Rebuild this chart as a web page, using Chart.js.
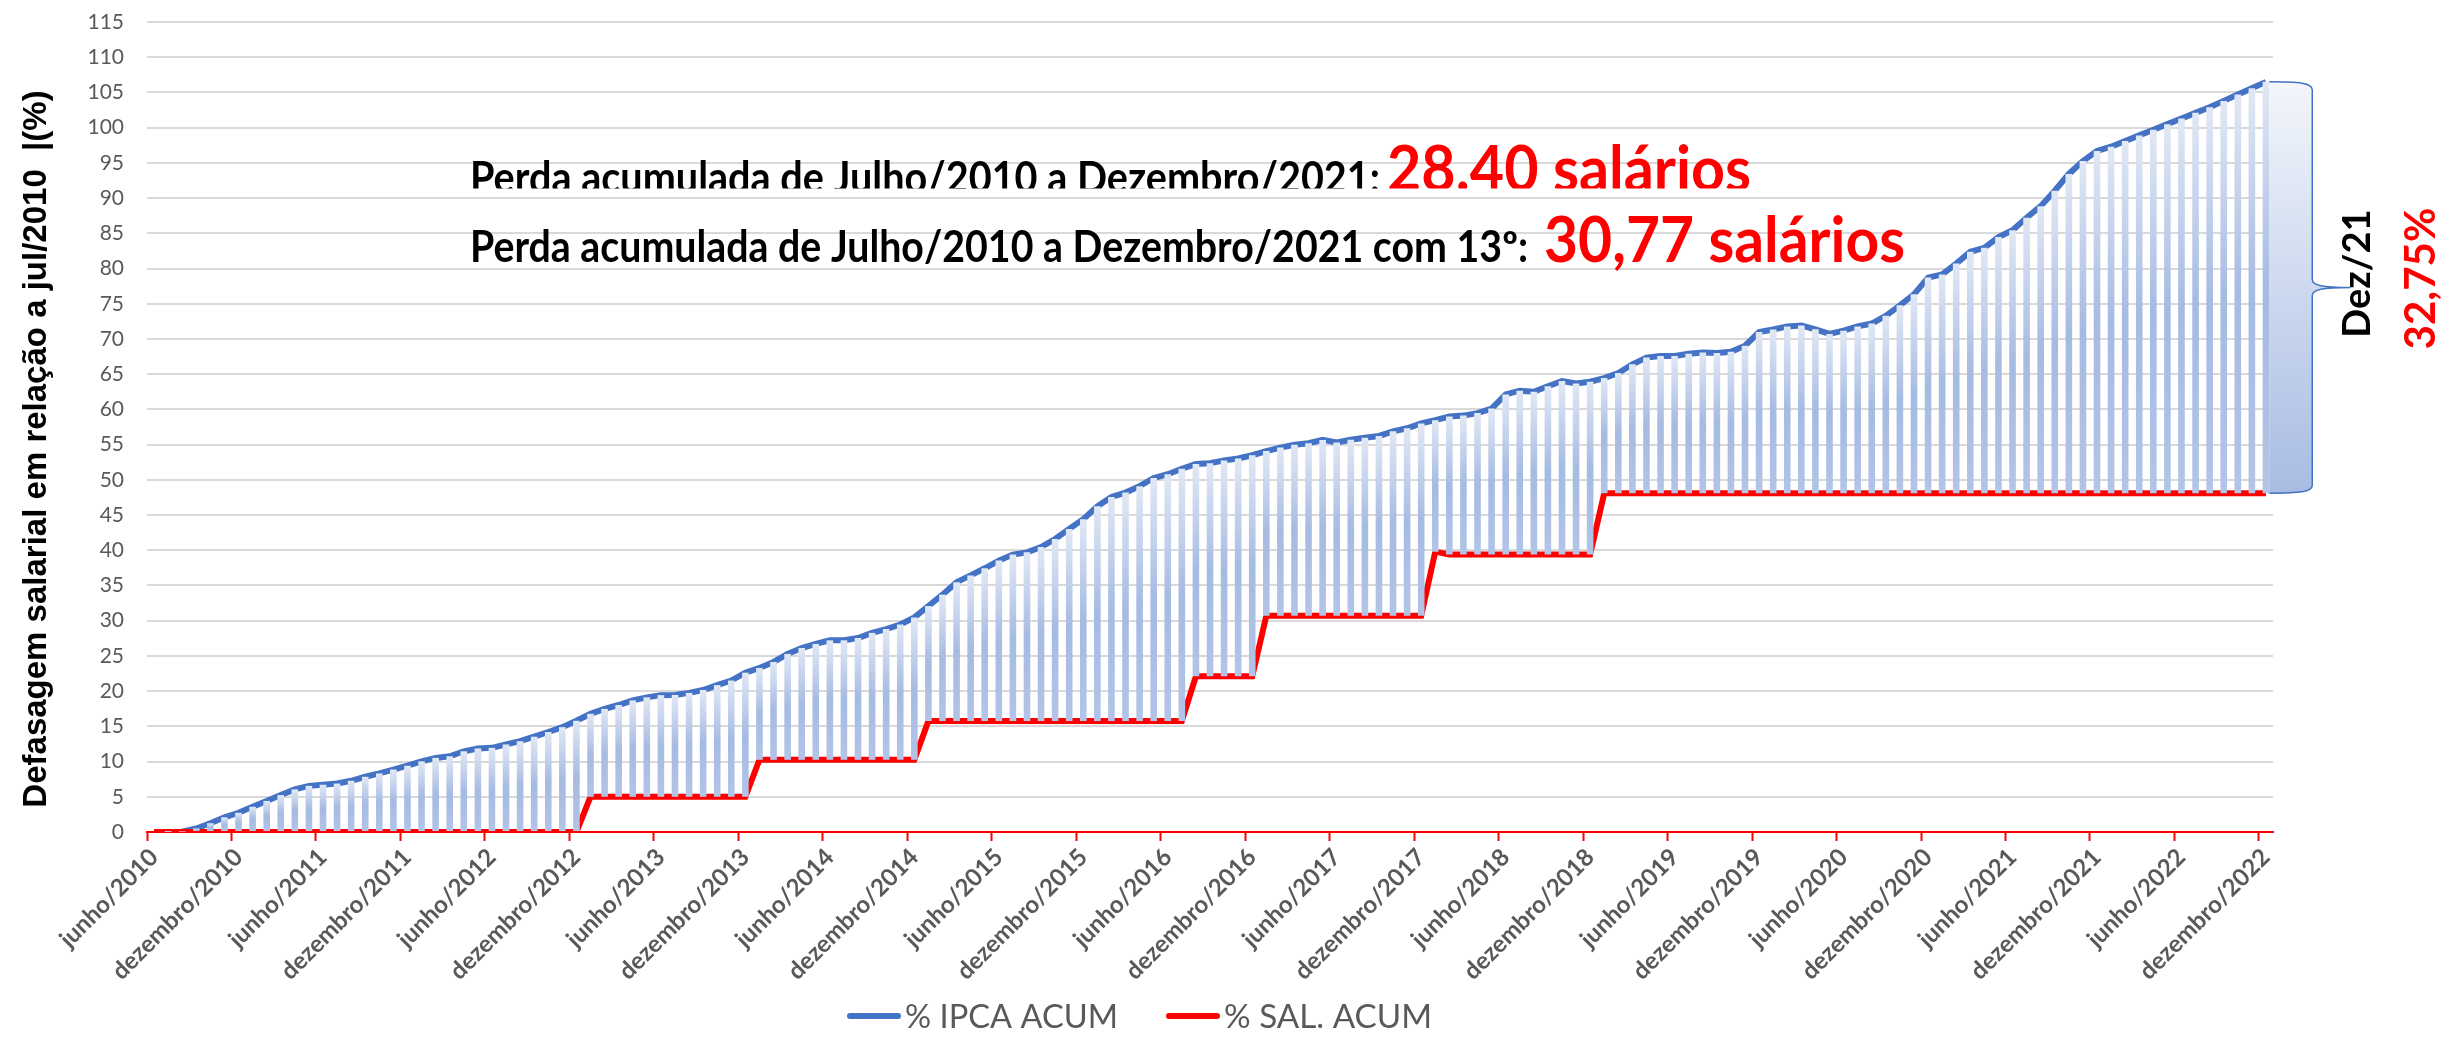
<!DOCTYPE html>
<html lang="pt-BR">
<head>
<meta charset="utf-8">
<title>Defasagem salarial</title>
<script src="https://cdn.jsdelivr.net/npm/chart.js@4.4.1/dist/chart.umd.min.js"></script>
<style>
  html, body { margin: 0; padding: 0; background: #fff; }
  #wrap { width: 2458px; height: 1039px; position: relative; }
</style>
</head>
<body>
<div id="wrap"><canvas id="grafico"></canvas></div>
<script>
// --- Dados ---
const meses = ['janeiro', 'fevereiro', 'março', 'abril', 'maio', 'junho',
  'julho', 'agosto', 'setembro', 'outubro', 'novembro', 'dezembro'];

// categorias: junho/2010 ... dezembro/2022
const categorias = [];
for (let ano = 2010; ano <= 2022; ano++) {
  for (let m = 0; m < 12; m++) {
    if (ano === 2010 && m < 5) continue;
    categorias.push(meses[m] + '/' + ano);
  }
}

const ipcaAcum = [
  0, 0.01, 0.05, 0.50, 1.25, 2.09, 2.73,                                          // 2010
  3.58, 4.41, 5.24, 6.05, 6.55, 6.71, 6.88, 7.27, 7.84, 8.31, 8.87, 9.41,         // 2011
  10.03, 10.52, 10.75, 11.46, 11.86, 11.95, 12.43, 12.89, 13.53, 14.20, 14.89, 15.79, // 2012
  16.78, 17.48, 18.03, 18.68, 19.12, 19.43, 19.46, 19.75, 20.16, 20.85, 21.50, 22.62, // 2013
  23.29, 24.14, 25.28, 26.12, 26.70, 27.21, 27.22, 27.54, 28.27, 28.81, 29.46, 30.47, // 2014
  32.09, 33.70, 35.47, 36.43, 37.44, 38.53, 39.39, 39.70, 40.45, 41.60, 43.03, 44.41, // 2015
  46.24, 47.56, 48.19, 49.10, 50.26, 50.79, 51.57, 52.24, 52.36, 52.76, 53.03, 53.49, // 2016
  54.08, 54.58, 54.97, 55.19, 55.67, 55.31, 55.68, 55.98, 56.23, 56.88, 57.32, 58.01, // 2017
  58.47, 58.98, 59.12, 59.47, 60.11, 62.13, 62.66, 62.51, 63.29, 64.03, 63.68, 63.93, // 2018
  64.45, 65.16, 66.40, 67.35, 67.57, 67.58, 67.90, 68.08, 68.02, 68.19, 69.04, 70.99, // 2019
  71.35, 71.78, 71.90, 71.37, 70.72, 71.17, 71.78, 72.19, 73.29, 74.78, 76.33, 78.71, // 2020
  79.16, 80.70, 82.38, 82.94, 84.46, 85.44, 87.22, 88.85, 91.04, 93.43, 95.27, 96.70, // 2021
  97.30, 98.10, 98.90, 99.70, 100.50, 101.30, 102.10, 102.90, 103.80, 104.70, 105.60, 106.50 // 2022
];

const salAcum = [
  0, 0, 0, 0, 0, 0, 0,                                                            // 2010
  0, 0, 0, 0, 0, 0, 0, 0, 0, 0, 0, 0,                                             // 2011
  0, 0, 0, 0, 0, 0, 0, 0, 0, 0, 0, 0,                                             // 2012
  5, 5, 5, 5, 5, 5, 5, 5, 5, 5, 5, 5,                                             // 2013
  10.25, 10.25, 10.25, 10.25, 10.25, 10.25, 10.25, 10.25, 10.25, 10.25, 10.25, 10.25, // 2014
  15.76, 15.76, 15.76, 15.76, 15.76, 15.76, 15.76, 15.76, 15.76, 15.76, 15.76, 15.76, // 2015
  15.76, 15.76, 15.76, 15.76, 15.76, 15.76, 15.76, 22.1, 22.1, 22.1, 22.1, 22.1,   // 2016
  30.7, 30.7, 30.7, 30.7, 30.7, 30.7, 30.7, 30.7, 30.7, 30.7, 30.7, 30.7,         // 2017
  39.8, 39.4, 39.4, 39.4, 39.4, 39.4, 39.4, 39.4, 39.4, 39.4, 39.4, 39.4,         // 2018
  48.1, 48.1, 48.1, 48.1, 48.1, 48.1, 48.1, 48.1, 48.1, 48.1, 48.1, 48.1,         // 2019
  48.1, 48.1, 48.1, 48.1, 48.1, 48.1, 48.1, 48.1, 48.1, 48.1, 48.1, 48.1,         // 2020
  48.1, 48.1, 48.1, 48.1, 48.1, 48.1, 48.1, 48.1, 48.1, 48.1, 48.1, 48.1,         // 2021
  48.1, 48.1, 48.1, 48.1, 48.1, 48.1, 48.1, 48.1, 48.1, 48.1, 48.1, 48.1          // 2022
];

const yMin = 0;
const yMax = 115;
const yStep = 5;

const tituloY = 'Defasagem salarial em relação a jul/2010  |(%)';
const linha1 = 'Perda acumulada de Julho/2010 a Dezembro/2021:';
const valor1 = '28.40 salários';
const linha2 = 'Perda acumulada de Julho/2010 a Dezembro/2021 com 13º:';
const valor2 = '30,77 salários';
const chaveMes = 'Dez/21';
const chaveValor = '32,75%';

// faixa entre salário e IPCA (barras flutuantes)
const faixa = categorias.map((_, i) => [salAcum[i], ipcaAcum[i]]);

function gradienteBarra(c) {
  const chart = c.chart;
  if (!chart.chartArea || !c.raw) return '#b4c7e7';
  const y = chart.scales.y;
  const topo = y.getPixelForValue(c.raw[1]);
  const base = y.getPixelForValue(c.raw[0]);
  if (base - topo < 2) return '#c9d6ee';
  const g = chart.ctx.createLinearGradient(0, topo, 0, base);
  g.addColorStop(0, '#e1e8f5');
  g.addColorStop(0.5, '#a6bbe2');
  g.addColorStop(1, '#b2c4e7');
  return g;
}

// texto ajustado a uma largura
function textoLargura(c, txt, x, y, fonte, cor, largura) {
  c.font = fonte;
  const w = c.measureText(txt).width;
  c.save();
  c.translate(x, y);
  c.scale(largura / w, 1);
  c.fillStyle = cor;
  c.textAlign = 'left';
  c.textBaseline = 'alphabetic';
  c.fillText(txt, 0, 0);
  c.restore();
}

const anotacoes = {
  id: 'anotacoes',
  afterDraw(chart) {
    const c = chart.ctx;
    const area = chart.chartArea;
    const ys = chart.scales.y;

    // título do eixo Y
    c.save();
    c.translate(37, (area.top + area.bottom) / 2 + 22);
    c.rotate(-Math.PI / 2);
    c.font = 'bold 33px "Liberation Sans", Arial, sans-serif';
    c.fillStyle = '#000';
    c.textAlign = 'center';
    c.textBaseline = 'middle';
    c.fillText(tituloY, 0, 0);
    c.restore();

    // textos de perda acumulada
    c.save();
    c.beginPath();
    c.rect(0, 0, chart.width, 188.5);
    c.clip();
    textoLargura(c, linha1, 470, 193, 'bold 43px Lato', '#000', 910);
    textoLargura(c, valor1, 1387, 191, 'bold 63px Lato', '#ff0000', 364);
    c.restore();
    textoLargura(c, linha2, 470, 262, 'bold 43px Lato', '#000', 1058);
    textoLargura(c, valor2, 1544, 262, 'bold 63px Lato', '#ff0000', 361);

    // chave à direita da última barra
    const ult = ipcaAcum.length - 1;
    const barra = chart.getDatasetMeta(0).data[ult];
    const xL = barra.x + barra.width / 2;
    const yT = ys.getPixelForValue(ipcaAcum[ult]);
    const yB = ys.getPixelForValue(salAcum[ult]);
    const xV = xL + 43;
    const xP = xV + 38;
    const yM = (yT + yB) / 2;

    const chave = () => {
      c.moveTo(xL, yT);
      c.bezierCurveTo(xL + 30, yT, xV, yT + 1, xV, yT + 8);
      c.lineTo(xV, yM - 8);
      c.bezierCurveTo(xV, yM - 2, xV + 10, yM, xP, yM);
      c.bezierCurveTo(xV + 10, yM, xV, yM + 2, xV, yM + 8);
      c.lineTo(xV, yB - 8);
      c.bezierCurveTo(xV, yB - 1, xL + 30, yB, xL, yB);
    };
    c.save();
    const g = c.createLinearGradient(0, yT, 0, yB);
    g.addColorStop(0, '#f3f6fb');
    g.addColorStop(1, '#a8bce3');
    c.beginPath();
    chave();
    c.closePath();
    c.fillStyle = g;
    c.fill();
    c.beginPath();
    chave();
    c.strokeStyle = '#4472c4';
    c.lineWidth = 1.5;
    c.stroke();
    c.restore();

    // rótulos da chave
    c.save();
    c.translate(xP + 20, yM - 14);
    c.rotate(-Math.PI / 2);
    c.textAlign = 'center';
    c.textBaseline = 'alphabetic';
    c.font = 'bold 38px Lato';
    c.fillStyle = '#000';
    c.fillText(chaveMes, 0, 0);
    c.restore();
    c.save();
    c.translate(xP + 85, yM - 9);
    c.rotate(-Math.PI / 2);
    c.textAlign = 'center';
    c.textBaseline = 'alphabetic';
    c.font = 'bold 42px Lato';
    c.fillStyle = '#ff0000';
    c.fillText(chaveValor, 0, 0);
    c.restore();

    // legenda
    const itens = [
      { ds: chart.data.datasets[1], x: 847, w: 213 },
      { ds: chart.data.datasets[2], x: 1166, w: 208 }
    ];
    const yLeg = 1016;
    itens.forEach(it => {
      c.save();
      c.strokeStyle = it.ds.borderColor;
      c.lineWidth = 6;
      c.lineCap = 'round';
      c.beginPath();
      c.moveTo(it.x + 3, yLeg);
      c.lineTo(it.x + 51, yLeg);
      c.stroke();
      c.restore();
      textoLargura(c, it.ds.label, it.x + 58, yLeg + 12, '33px Lato', '#595959', it.w);
    });
  }
};

const ctx = document.getElementById('grafico').getContext('2d');

const grafico = new Chart(ctx, {
  type: 'bar',
  data: {
    labels: categorias,
    datasets: [
      {
        type: 'bar',
        label: 'faixa',
        data: faixa,
        backgroundColor: gradienteBarra,
        borderWidth: 0,
        barPercentage: 0.47,
        categoryPercentage: 1,
        order: 0
      },
      {
        type: 'line',
        label: '% IPCA ACUM',
        data: ipcaAcum,
        borderColor: '#4472c4',
        backgroundColor: '#4472c4',
        borderWidth: 6,
        pointRadius: 0,
        tension: 0,
        order: 2
      },
      {
        type: 'line',
        label: '% SAL. ACUM',
        data: salAcum,
        borderColor: '#ff0000',
        backgroundColor: '#ff0000',
        borderWidth: 6,
        pointRadius: 0,
        tension: 0,
        order: 1
      }
    ]
  },
  options: {
    responsive: true,
    maintainAspectRatio: false,
    animation: false,
    devicePixelRatio: 1,
    layout: { padding: { top: 22, right: 185, bottom: 53, left: 0 } },
    plugins: {
      legend: { display: false },
      tooltip: { enabled: false }
    },
    scales: {
      x: {
        offset: true,
        grid: {
          display: true,
          drawOnChartArea: false,
          offset: true,
          tickLength: 9,
          tickWidth: 2,
          tickColor: (c) => (c.index % 6 === 0 ? '#ff0000' : 'rgba(0,0,0,0)')
        },
        border: { display: true, color: '#ff0000', width: 2 },
        ticks: {
          autoSkip: false,
          maxRotation: 45,
          minRotation: 45,
          padding: 2,
          color: '#595959',
          font: { family: 'Lato', size: 24, weight: 'bold' },
          callback: function (v, i) {
            return i % 6 === 0 ? this.getLabelForValue(v) : '';
          }
        },
        afterFit: (s) => { s.height = 154; }
      },
      y: {
        min: yMin,
        max: yMax,
        ticks: {
          stepSize: yStep,
          color: '#595959',
          padding: 3,
          font: { family: 'Lato', size: 21 }
        },
        grid: {
          color: '#d9d9d9',
          lineWidth: 2,
          drawTicks: true,
          tickLength: 20,
          tickColor: 'rgba(0,0,0,0)'
        },
        border: { display: false },
        afterFit: (s) => { s.width = 147; }
      }
    }
  },
  plugins: [anotacoes]
});
</script>
</body>
</html>
